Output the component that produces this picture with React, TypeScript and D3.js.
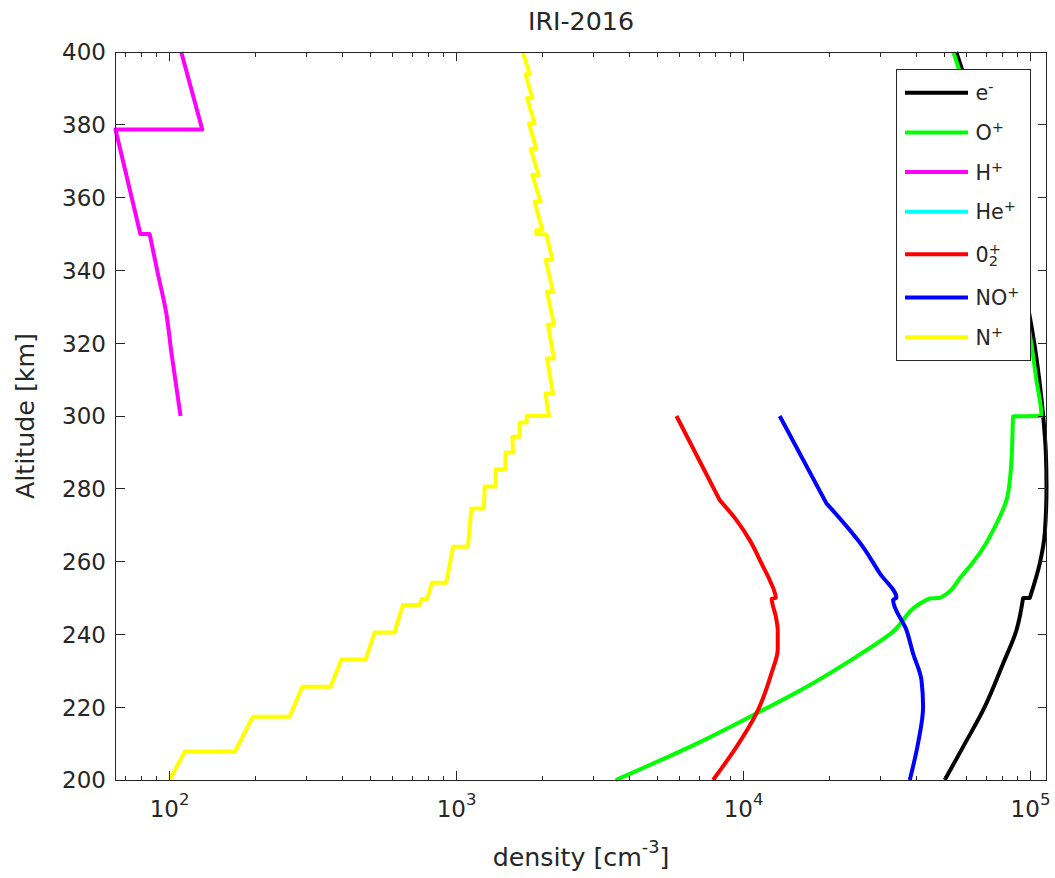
import React from "react";
import * as d3 from "d3";

// ---------- data (altitude in km, density in cm^-3) ----------
const altitudeTicks = [200, 220, 240, 260, 280, 300, 320, 340, 360, 380, 400];
const densityDecades = [100, 1000, 10000, 100000];
const decadeExponents = ["2", "3", "4", "5"];

const altE = [200, 209.1, 220.1, 232, 241.2, 250, 250, 259.5, 267.8, 280.6, 290, 300, 310, 320, 329.5, 340, 350, 360, 370, 380, 390, 400];
const densE = [50270, 58220, 69280, 80270, 89390, 94240, 99450, 107750, 112150, 113700, 113100, 110700, 107300, 103100, 98240, 92130, 85740, 79110, 72690, 66570, 60710, 55130];

const altO = [200, 210, 218.3, 225, 233.9, 240, 249.9, 250, 256, 262.3, 270, 276.9, 285, 292, 299.9, 300, 310, 320, 329.5, 340, 350, 360, 370, 380, 390, 400];
const densO = [3585, 6870, 11090, 16080, 24750, 32320, 44570, 48300, 57500, 66570, 75690, 82480, 85350, 86330, 86970, 109200, 104800, 100600, 95920, 89950, 83680, 77230, 70990, 65020, 59280, 53810];

const altH = [300, 317.6, 328.2, 339.2, 350, 350, 378.7, 378.7, 400];
const densH = [109.2, 101.4, 97.4, 91.0, 85.2, 79.1, 64.8, 130, 109.8];

const altHe: number[] = [];
const densHe: number[] = [];

// a repeated (altitude, density) pair marks a kink in the profile
const altO2 = [200, 209.1, 218.3, 229.3, 236, 241, 245, 249.8, 250, 254.9, 258.6, 265.9, 271.4, 276.9, 276.9, 300];
const densO2 = [7830, 9450, 11090, 12510, 13160, 13160, 12950, 12540, 12950, 12340, 11700, 10510, 9448, 8260, 8260, 5838];

const altNO = [200, 210.1, 220.1, 227.5, 234.8, 241.2, 249.5, 250, 256.8, 264, 276, 276, 300];
const densNO = [37960, 40570, 42240, 41690, 38970, 36960, 33190, 34110, 29830, 26100, 19450, 19450, 13370];

const altN = [200, 207.8, 207.8, 217.4, 217.4, 225.6, 225.6, 233.1, 233.1, 240.5, 240.5, 248.1, 248.1, 249.7, 249.7, 254.2, 254.2, 264.1, 264.1, 274.6, 274.6, 280.6, 280.6, 285.4, 285.4, 290, 290, 294.3, 294.3, 298.2, 298.2, 300, 300, 306.2, 306.2, 315.8, 315.8, 325.1, 325.1, 334.1, 334.1, 342.9, 342.9, 349.9, 349.9, 351.1, 351.1, 358.9, 358.9, 366.2, 366.2, 373.4, 373.4, 380.4, 380.4, 387.3, 387.3, 393.9, 393.9, 400];
const densN = [100, 113, 169, 195, 262, 290, 364, 397, 482, 518, 608, 650, 744, 754, 789, 821, 921, 972, 1096, 1126, 1246, 1253, 1369, 1369, 1480, 1480, 1573, 1565, 1660, 1660, 1755, 1755, 2100, 2040, 2168, 2066, 2186, 2083, 2186, 2066, 2168, 2045, 2158, 2056, 1897, 1897, 1991, 1871, 1964, 1837, 1933, 1813, 1897, 1788, 1871, 1760, 1837, 1741, 1798, 1704];

const seriesNames = ["e", "O", "H", "He", "0", "NO", "N"];
const seriesSup = ["-", "+", "+", "+", "+", "+", "+"];
const seriesSub = ["", "", "", "", "2", "", ""];
const seriesColors = ["#000000", "#00ff00", "#ff00ff", "#00ffff", "#ff0000", "#0000ff", "#ffff00"];
const seriesAlts = [altE, altO, altH, altHe, altO2, altNO, altN];
const seriesVals = [densE, densO, densH, densHe, densO2, densNO, densN];

const titleText = "IRI-2016";
const xLabelText = "density [cm";
const xLabelSup = "-3";
const yLabelText = "Altitude [km]";

// ---------- layout ----------
const W = 1055;
const H = 878;
const LEFT = 115.5;
const RIGHT = 1046.5;
const TOP = 52;
const BOTTOM = 780;
const FONT = "'DejaVu Sans', 'Liberation Sans', sans-serif";
const TXT = "#262626";
const AXC = "#262626";
const TICK_FS = 23;
const LABEL_FS = 25.3;
const LEG_FS = 20.7;

export default function App() {
  const allVals = seriesVals.flat();
  const [vmin, vmax] = d3.extent(allVals) as [number, number];
  const x = d3.scaleLog().domain([vmin, vmax]).range([LEFT, RIGHT]);
  const y = d3
    .scaleLinear()
    .domain([altitudeTicks[0], altitudeTicks[altitudeTicks.length - 1]])
    .range([BOTTOM, TOP]);

  const smooth = d3
    .line<[number, number]>()
    .x((d) => x(d[1]))
    .y((d) => y(d[0]))
    .curve(d3.curveMonotoneY);

  // split a profile into runs at discontinuities (repeated altitude = step or kink)
  const pathFor = (alts: number[], vals: number[]) => {
    const runs: [number, number][][] = [];
    let cur: [number, number][] = [];
    alts.forEach((a, j) => {
      if (j > 0 && a === alts[j - 1]) {
        runs.push(cur);
        cur = [];
      }
      cur.push([a, vals[j]]);
    });
    if (cur.length) runs.push(cur);
    return runs
      .map((r, k) => {
        const s = smooth(r) || "";
        return k === 0 ? s : "L" + s.slice(1);
      })
      .join("");
  };

  const minorTicks: number[] = [];
  for (let e = 1; e <= 5; e++) {
    for (let k = 2; k <= 9; k++) {
      const v = k * Math.pow(10, e);
      if (v > vmin && v < vmax) minorTicks.push(v);
    }
  }

  const majorLen = 9;
  const minorLen = 4.5;

  const legX = 896;
  const legY = 69;
  const legW = 134;
  const legH = 291;
  const rowY = (i: number) => 92.7 + i * 39.7 + (i >= 4 ? 2.8 : 0) + (i >= 5 ? 3.6 : 0);

  return (
    <svg
      width={W}
      height={H}
      viewBox={`0 0 ${W} ${H}`}
      style={{ position: "absolute", left: 0, top: 0, display: "block", background: "#ffffff" }}
      fontFamily={FONT}
    >
      <rect x={0} y={0} width={W} height={H} fill="#ffffff" />

      {/* data lines */}
      <g fill="none" strokeWidth={4} strokeLinejoin="round" strokeLinecap="butt">
        {seriesAlts.map((alts, i) => {
          if (alts.length === 0) return null;
          return <path key={i} d={pathFor(alts, seriesVals[i])} stroke={seriesColors[i]} />;
        })}
      </g>

      {/* axes box */}
      <g stroke={AXC} strokeWidth={1} shapeRendering="crispEdges" fill="none">
        <rect x={LEFT} y={TOP} width={RIGHT - LEFT} height={BOTTOM - TOP} />
        {altitudeTicks.map((t) => (
          <g key={"yt" + t}>
            <line x1={LEFT} x2={LEFT + majorLen} y1={y(t)} y2={y(t)} />
            <line x1={RIGHT} x2={RIGHT - majorLen} y1={y(t)} y2={y(t)} />
          </g>
        ))}
        {densityDecades.map((t) => (
          <g key={"xt" + t}>
            <line x1={x(t)} x2={x(t)} y1={BOTTOM} y2={BOTTOM - majorLen} />
            <line x1={x(t)} x2={x(t)} y1={TOP} y2={TOP + majorLen} />
          </g>
        ))}
        {minorTicks.map((t) => (
          <g key={"xm" + t}>
            <line x1={x(t)} x2={x(t)} y1={BOTTOM} y2={BOTTOM - minorLen} />
            <line x1={x(t)} x2={x(t)} y1={TOP} y2={TOP + minorLen} />
          </g>
        ))}
      </g>

      {/* y tick labels */}
      <g fill={TXT} fontSize={TICK_FS} textAnchor="end">
        {altitudeTicks.map((t) => (
          <text key={"yl" + t} x={106} y={y(t) + 8.4}>
            {t}
          </text>
        ))}
      </g>

      {/* x tick labels */}
      <g fill={TXT} fontSize={TICK_FS} textAnchor="middle">
        {densityDecades.map((t, i) => (
          <text key={"xl" + t} x={x(t)} y={817}>
            10
            <tspan dy={-12} fontSize={16.5}>
              {decadeExponents[i]}
            </tspan>
          </text>
        ))}
      </g>

      {/* axis labels and title */}
      <text x={(LEFT + RIGHT) / 2} y={866} fill={TXT} fontSize={LABEL_FS} textAnchor="middle">
        {xLabelText}
        <tspan dy={-13} fontSize={17.7}>
          {xLabelSup}
        </tspan>
        <tspan dy={13}>]</tspan>
      </text>
      <text
        transform={`translate(33.5, ${(TOP + BOTTOM) / 2}) rotate(-90)`}
        fill={TXT}
        fontSize={LABEL_FS}
        textAnchor="middle"
      >
        {yLabelText}
      </text>
      <text x={(LEFT + RIGHT) / 2} y={30} fill={TXT} fontSize={LABEL_FS} textAnchor="middle">
        {titleText}
      </text>

      {/* legend */}
      <g>
        <rect x={legX + 0.5} y={legY + 0.5} width={legW} height={legH} fill="#ffffff" stroke={AXC} strokeWidth={1} shapeRendering="crispEdges" />
        {seriesNames.map((name, i) => {
          const cy = rowY(i);
          return (
            <g key={"lg" + i}>
              <line x1={905} x2={968} y1={cy} y2={cy} stroke={seriesColors[i]} strokeWidth={4} />
              <text x={975.5} y={cy + 7.5} fill={TXT} fontSize={LEG_FS}>
                {name}
                {seriesSub[i] ? (
                  <>
                    <tspan dy={4.2} fontSize={14.5}>
                      {seriesSub[i]}
                    </tspan>
                    <tspan dx={-9.2} dy={-12.2} fontSize={14.5}>
                      {seriesSup[i]}
                    </tspan>
                  </>
                ) : (
                  <tspan dy={-8} fontSize={14.5}>
                    {seriesSup[i]}
                  </tspan>
                )}
              </text>
            </g>
          );
        })}
      </g>
    </svg>
  );
}
